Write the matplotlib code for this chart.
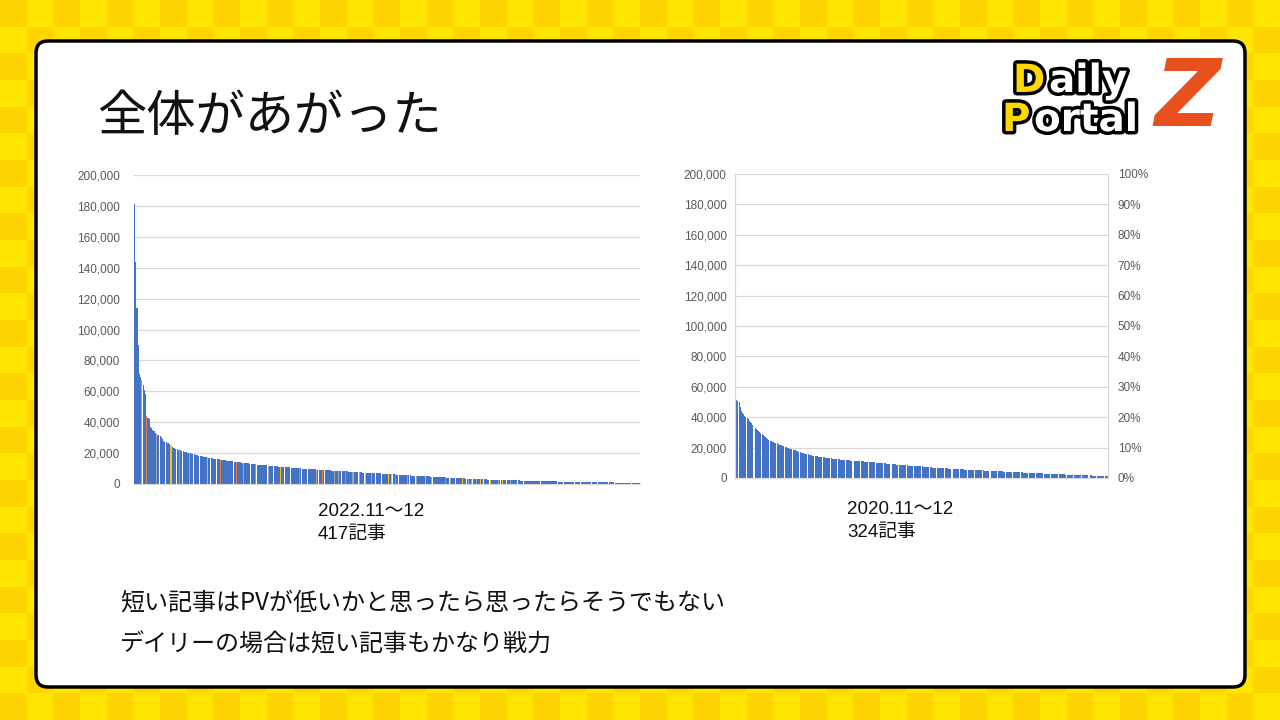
import numpy as np
import matplotlib.pyplot as plt
import matplotlib.patheffects as pe
from matplotlib.colors import ListedColormap
from matplotlib.patches import FancyBboxPatch
from matplotlib.ticker import FuncFormatter, PercentFormatter

plt.rcParams['font.family'] = ['Liberation Sans', 'Noto Sans CJK JP', 'DejaVu Sans']

# =====================================
# Data (PV per article, thousands, sorted)
# =====================================

pv_2022 = [
    181, 144, 114, 90, 71, 69, 67, 64, 61, 58,
    44, 43, 42, 37, 36, 35, 34, 33, 32.5, 32,
    31.5, 31, 30.5, 29, 28, 27.5, 27, 26.8, 26.5, 26,
    25.5, 24, 23.5, 23, 22.8, 22.5, 22.3, 22, 21.8, 21.5,
    21.2, 21, 20.8, 20.5, 20.3, 20, 19.8, 19.6, 19.4, 19.2,
    19, 18.8, 18.6, 18.4, 18.2, 18, 17.8, 17.7, 17.5, 17.4,
    17.2, 17.1, 17, 16.8, 16.7, 16.5, 16.4, 16.2, 16.1, 16,
    15.9, 15.8, 15.6, 15.5, 15.4, 15.3, 15.2, 15.1, 15, 14.9,
    14.8, 14.6, 14.5, 14.4, 14.3, 14.2, 14.1, 14, 13.9, 13.8,
    13.7, 13.6, 13.5, 13.4, 13.3, 13.2, 13.1, 13, 12.9, 12.8,
    12.7, 12.6, 12.5, 12.5, 12.4, 12.3, 12.2, 12.1, 12, 12,
    11.9, 11.8, 11.8, 11.7, 11.6, 11.6, 11.5, 11.4, 11.4, 11.3,
    11.2, 11.2, 11.1, 11, 11, 10.9, 10.8, 10.8, 10.7, 10.6,
    10.6, 10.5, 10.4, 10.4, 10.3, 10.2, 10.2, 10.1, 10, 10,
    9.9, 9.9, 9.8, 9.7, 9.7, 9.6, 9.6, 9.5, 9.4, 9.4,
    9.3, 9.3, 9.2, 9.2, 9.1, 9.1, 9, 9, 8.9, 8.9,
    8.8, 8.8, 8.7, 8.7, 8.6, 8.6, 8.5, 8.5, 8.4, 8.4,
    8.3, 8.3, 8.2, 8.2, 8.1, 8.1, 8, 8, 7.9, 7.9,
    7.8, 7.8, 7.7, 7.7, 7.6, 7.6, 7.5, 7.5, 7.4, 7.4,
    7.3, 7.3, 7.2, 7.2, 7.1, 7.1, 7.1, 7, 7, 7,
    6.9, 6.9, 6.8, 6.8, 6.7, 6.7, 6.6, 6.6, 6.5, 6.5,
    6.4, 6.4, 6.3, 6.3, 6.2, 6.2, 6.1, 6.1, 6, 6,
    5.9, 5.9, 5.8, 5.8, 5.7, 5.7, 5.6, 5.6, 5.5, 5.5,
    5.4, 5.4, 5.3, 5.3, 5.2, 5.2, 5.1, 5.1, 5, 5,
    5, 4.9, 4.9, 4.9, 4.8, 4.8, 4.8, 4.7, 4.7, 4.6,
    4.6, 4.5, 4.5, 4.4, 4.4, 4.3, 4.3, 4.2, 4.2, 4.1,
    4.1, 4, 4, 3.9, 3.9, 3.9, 3.8, 3.8, 3.7, 3.7,
    3.7, 3.6, 3.6, 3.5, 3.5, 3.5, 3.4, 3.4, 3.4, 3.3,
    3.3, 3.3, 3.2, 3.2, 3.2, 3.1, 3.1, 3.1, 3.0, 3.0,
    3.0, 2.9, 2.9, 2.9, 2.8, 2.8, 2.8, 2.8, 2.7, 2.7,
    2.7, 2.7, 2.6, 2.6, 2.6, 2.6, 2.5, 2.5, 2.5, 2.5,
    2.4, 2.4, 2.4, 2.4, 2.3, 2.3, 2.3, 2.3, 2.2, 2.2,
    2.2, 2.2, 2.2, 2.1, 2.1, 2.1, 2.1, 2.1, 2.0, 2.0,
    2.0, 2.0, 2.0, 1.9, 1.9, 1.9, 1.9, 1.9, 1.8, 1.8,
    1.8, 1.8, 1.8, 1.7, 1.7, 1.7, 1.7, 1.7, 1.7, 1.6,
    1.6, 1.6, 1.6, 1.6, 1.6, 1.5, 1.5, 1.5, 1.5, 1.5,
    1.5, 1.4, 1.4, 1.4, 1.4, 1.4, 1.4, 1.3, 1.3, 1.3,
    1.3, 1.3, 1.3, 1.3, 1.2, 1.2, 1.2, 1.2, 1.2, 1.2,
    1.2, 1.1, 1.1, 1.1, 1.1, 1.1, 1.1, 1.1, 1.0, 1.0,
    1.0, 1.0, 1.0, 1.0, 1.0, 1.0, 0.9, 0.9, 0.9, 0.9,
    0.9, 0.9, 0.9, 0.9, 0.9, 0.8, 0.8, 0.8, 0.8, 0.8,
    0.8, 0.8, 0.8, 0.8, 0.7, 0.7, 0.7,
]

# articles highlighted in other colours (2022 chart)
orange_idx = [10, 37, 71, 84, 100, 136, 155, 174, 215, 256]
yellow_idx = [30, 60, 120, 190, 209, 212, 240, 270, 285, 293, 303]
gray_idx = [6, 18, 45, 90, 110, 150, 165, 168, 180, 185, 195, 225,
            232, 245, 260, 275, 278, 282, 300, 310]

pv_2020 = [
    51.5, 51, 50.5, 50, 47, 44, 43, 42, 41, 40,
    39.2, 38.5, 37.8, 37, 36, 35, 34, 33, 32.2, 31.5,
    30.8, 30.2, 29.6, 29, 28.3, 27.6, 27, 26.3, 25.7, 25,
    24.4, 24.1, 23.8, 23.5, 23.2, 23, 22.7, 22.4, 22, 21.7,
    21.4, 21.1, 20.8, 20.5, 20.2, 19.9, 19.6, 19.4, 19.2, 19,
    18.7, 18.4, 18.1, 17.8, 17.5, 17.2, 16.9, 16.7, 16.5, 16.3,
    16.1, 15.9, 15.7, 15.5, 15.3, 15.1, 15, 14.8, 14.7, 14.6,
    14.4, 14.3, 14.1, 14, 13.8, 13.7, 13.6, 13.5, 13.4, 13.3,
    13.2, 13.1, 13, 12.9, 12.8, 12.7, 12.6, 12.5, 12.4, 12.3,
    12.2, 12.1, 12, 12, 11.9, 11.8, 11.8, 11.7, 11.6, 11.6,
    11.5, 11.5, 11.4, 11.4, 11.3, 11.3, 11.2, 11.2, 11.1, 11,
    10.9, 10.9, 10.8, 10.7, 10.7, 10.6, 10.5, 10.5, 10.4, 10.3,
    10.3, 10.2, 10.1, 10.1, 10, 9.9, 9.9, 9.8, 9.7, 9.7,
    9.6, 9.5, 9.4, 9.4, 9.3, 9.2, 9.1, 9.1, 9, 8.9,
    8.8, 8.8, 8.7, 8.6, 8.5, 8.5, 8.4, 8.4, 8.3, 8.3,
    8.2, 8.2, 8.1, 8.1, 8, 8, 8, 7.9, 7.9, 7.8,
    7.7, 7.7, 7.6, 7.5, 7.5, 7.4, 7.3, 7.2, 7.1, 7,
    7, 6.9, 6.9, 6.8, 6.8, 6.7, 6.7, 6.6, 6.6, 6.5,
    6.5, 6.4, 6.4, 6.3, 6.3, 6.2, 6.2, 6.1, 6.1, 6,
    6, 5.9, 5.9, 5.8, 5.8, 5.7, 5.7, 5.6, 5.6, 5.5,
    5.5, 5.5, 5.4, 5.4, 5.4, 5.3, 5.3, 5.2, 5.2, 5.2,
    5.1, 5.1, 5.1, 5, 5, 5, 4.9, 4.9, 4.9, 4.8,
    4.8, 4.8, 4.8, 4.7, 4.7, 4.6, 4.6, 4.5, 4.5, 4.4,
    4.4, 4.3, 4.3, 4.2, 4.2, 4.1, 4.1, 4.1, 4, 4,
    4, 3.9, 3.9, 3.9, 3.8, 3.8, 3.8, 3.7, 3.7, 3.7,
    3.6, 3.6, 3.5, 3.5, 3.5, 3.4, 3.4, 3.3, 3.3, 3.3,
    3.2, 3.2, 3.1, 3.1, 3.1, 3, 3, 3, 2.9, 2.9,
    2.9, 2.8, 2.8, 2.8, 2.8, 2.7, 2.7, 2.7, 2.6, 2.6,
    2.6, 2.5, 2.5, 2.5, 2.4, 2.4, 2.4, 2.3, 2.3, 2.3,
    2.3, 2.2, 2.2, 2.2, 2.2, 2.1, 2.1, 2.1, 2.0, 2.0,
    2.0, 1.9, 1.9, 1.9, 1.8, 1.8, 1.8, 1.7, 1.7, 1.7,
    1.6, 1.6, 1.6, 1.5, 1.5, 1.5, 1.4, 1.4, 1.4, 1.3,
    1.3, 1.3, 1.2, 1.2,
]

title = "全体があがった"
caption_2022 = ["2022.11～12", "417記事"]
caption_2020 = ["2020.11～12", "324記事"]
notes = ["短い記事はPVが低いかと思ったら思ったらそうでもない",
         "デイリーの場合は短い記事もかなり戦力"]

BLUE = '#4472C4'
ORANGE = '#ED7D31'
GRAY = '#A5A5A5'
YELLOW = '#FFC000'
GRID = '#D9D9D9'
TICK = '#595959'


# =====================================
# Figure + background
# =====================================

fig = plt.figure(figsize=(12.8, 7.2), dpi=100)

bg = fig.add_axes([0, 0, 1, 1])
bg.set_xlim(0, 1280)
bg.set_ylim(720, 0)
bg.axis('off')

checker = np.indices((27, 48)).sum(axis=0) % 2
bg.imshow(checker, cmap=ListedColormap(['#FFD400', '#FFE600']),
          extent=[0, 1280, 720, 0], aspect='auto', interpolation='nearest')

panel = FancyBboxPatch((36, 41), 1209, 646,
                       boxstyle="round,pad=0,rounding_size=12",
                       fc='white', ec='black', lw=2.5)
bg.add_patch(panel)

bg.text(97, 117, title, fontsize=35.5, family=['Noto Sans CJK JP'],
        va='center', ha='left', color='#111111')

# logo
stroke = [pe.withStroke(linewidth=5, foreground='black')]
logo_font = dict(fontsize=28, fontweight='bold', family=['DejaVu Sans'],
                 va='baseline', path_effects=stroke)
bg.text(1013, 92, "D", color='#FFD800', **logo_font)
bg.text(1049, 92, "aily", color='white', **logo_font)
bg.text(1002, 131, "P", color='#FFD800', **logo_font)
bg.text(1034, 131, "ortal", color='white', **logo_font)
bg.text(1188, 100, "Z", color='#E8501E', fontsize=66, fontweight='bold',
        fontstyle='italic', family=['DejaVu Sans'], ha='center', va='center')

# captions
for i, line in enumerate(caption_2022):
    bg.text(318, 511 + 24 * i, line, fontsize=13.5, va='center', color='#111111')
for i, line in enumerate(caption_2020):
    bg.text(847, 509 + 23 * i, line, fontsize=13.5, va='center', color='#111111')
for i, line in enumerate(notes):
    bg.text(120, 603 + 42 * i, line, fontsize=17.3, va='center', color='#111111',
            family=['Noto Sans CJK JP'])


# =====================================
# Left chart (2022)
# =====================================

comma = FuncFormatter(lambda v, p: f"{int(v):,}")

colors = [BLUE] * len(pv_2022)
for i in orange_idx:
    colors[i] = ORANGE
for i in yellow_idx:
    colors[i] = YELLOW
for i in gray_idx:
    colors[i] = GRAY

ax1 = fig.add_axes([134 / 1280, (720 - 484) / 720, 506 / 1280, 309 / 720])
x1 = np.arange(len(pv_2022))
ax1.bar(x1, np.array(pv_2022) * 1000, width=0.9, color=colors, lw=0)
ax1.set_xlim(-0.5, len(pv_2022) - 0.5)
ax1.set_ylim(0, 200000)
ax1.set_yticks(np.arange(0, 200001, 20000))
ax1.yaxis.set_major_formatter(comma)
ax1.set_xticks([])
ax1.grid(axis='y', color=GRID, lw=0.9)
ax1.set_axisbelow(True)
for s in ['top', 'left', 'right']:
    ax1.spines[s].set_visible(False)
ax1.spines['bottom'].set_color(GRID)
ax1.tick_params(axis='y', length=0, pad=10, labelsize=8.5, labelcolor=TICK)


# =====================================
# Right chart (2020)
# =====================================

ax2 = fig.add_axes([735 / 1280, (720 - 478) / 720, 373 / 1280, 304 / 720])
x2 = np.arange(len(pv_2020))
ax2.bar(x2, np.array(pv_2020) * 1000, width=0.85, color=BLUE, lw=0)
ax2.set_xlim(-0.5, len(pv_2020) - 0.5)
ax2.set_ylim(0, 200000)
ax2.set_yticks(np.arange(0, 200001, 20000))
ax2.yaxis.set_major_formatter(comma)
ax2.set_xticks([])
ax2.grid(axis='y', color=GRID, lw=0.9)
ax2.set_axisbelow(True)
ax2.spines['top'].set_visible(False)
for s in ['left', 'right', 'bottom']:
    ax2.spines[s].set_color(GRID)
ax2.tick_params(axis='y', length=0, pad=6, labelsize=8.5, labelcolor=TICK)

ax2r = ax2.twinx()
ax2r.set_ylim(0, 1)
ax2r.set_yticks(np.arange(0, 1.01, 0.1))
ax2r.yaxis.set_major_formatter(PercentFormatter(1.0, decimals=0))
ax2r.spines['top'].set_visible(False)
for s in ['left', 'right', 'bottom']:
    ax2r.spines[s].set_color(GRID)
ax2r.tick_params(axis='y', length=0, pad=7, labelsize=8.5, labelcolor=TICK)

fig.savefig("out.png", dpi=100)
